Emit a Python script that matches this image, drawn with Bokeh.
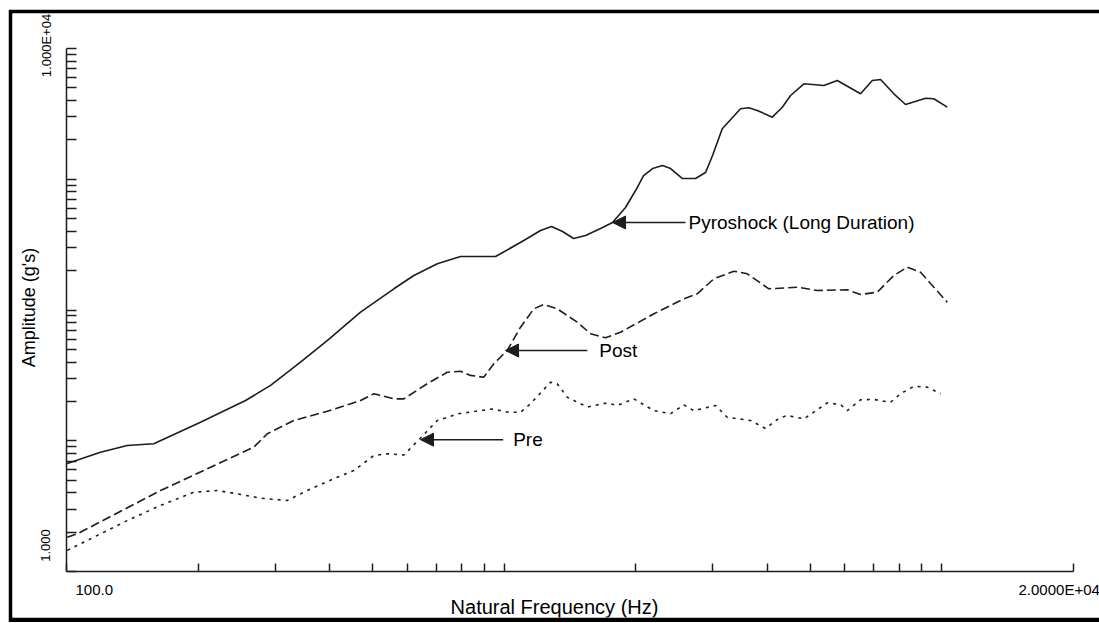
import math
from bokeh.plotting import figure
from bokeh.models import (Range1d, FixedTicker, CustomJSTickFormatter, Label,
                          Arrow, NormalHead, LogAxis)
from bokeh.embed import file_html
from bokeh.resources import INLINE

# ---------------- data ----------------
freq_pyro = [100, 119.6, 137.6, 158.3, 202.4, 256.5, 292.6, 342.5, 394.2, 469.8,
             559.8, 621.9, 703.5, 795.1, 955.7, 981.3, 1109, 1211, 1283, 1360,
             1441, 1535, 1661, 1769, 1894, 1997, 2083, 2184, 2301, 2401, 2556,
             2737, 2886, 2994, 3151, 3469, 3625, 3788, 4100, 4321, 4514, 4841,
             5378, 5771, 6523, 6938, 7247, 7772, 8265, 9184, 9592, 10294]
amp_pyro = [6.66, 8.17, 9.20, 9.48, 13.87, 20.3, 26.5, 39.9, 58.4, 96.2,
            145.3, 183.6, 225.6, 256.6, 256.6, 269.1, 340.1, 405.5, 435.1, 398.5,
            352.3, 371.4, 420.2, 467.0, 608, 820, 1068, 1208, 1274, 1208, 1013,
            1013, 1126, 1519, 2431, 3458, 3519, 3356, 2983, 3557, 4371, 5370,
            5212, 5692, 4504, 5692, 5794, 4504, 3730, 4169, 4124, 3557]

freq_post = [100.4, 105.8, 164, 267.9, 287.5, 330.7, 394.2, 469.8, 503.9, 559.8,
             590, 667.4, 741.3, 795.1, 837.9, 898.6, 947.3, 1016, 1090, 1169,
             1232, 1322, 1469, 1576, 1705, 1845, 2199, 2574, 2762, 3015, 3349,
             3594, 4026, 4676, 5193, 6083, 6523, 7123, 7772, 8340, 8944, 9592,
             10294]
amp_post = [1.83, 1.94, 4.16, 8.93, 11.3, 14.28, 16.8, 20.3, 22.9, 20.9,
            20.9, 27.3, 33.4, 34.0, 31.6, 30.6, 38.8, 49.0, 73.9, 102.1,
            110.2, 102.1, 80.7, 65.8, 61.3, 67.6, 93.5, 121.8, 133, 173.2, 198.1,
            189.2, 145.3, 149.4, 141, 142.7, 131.4, 136.8, 183.6, 212.5, 194.6, 149.4,
            114.7]

freq_pre = [100.4, 137.6, 164, 195.4, 221, 245.5, 277.6, 319.4, 354.8, 415.6,
            453.5, 503.9, 540.5, 590, 644.2, 703.5, 786.7, 938.3, 1025, 1090,
            1149, 1276, 1322, 1394, 1549, 1720, 1813, 1979, 2199, 2401, 2574,
            2713, 3042, 3235, 3657, 3958, 4238, 4436, 4841, 5475, 5871, 6083,
            6523, 6996, 7638, 8053, 8639, 9267, 9938]
amp_pre = [1.45, 2.45, 3.20, 4.04, 4.16, 3.93, 3.64, 3.49, 4.16, 5.26,
           5.92, 7.71, 7.95, 7.78, 10.5, 14.28, 16.1, 17.5, 16.5, 16.5,
           19.2, 28.0, 27.3, 21.5, 18.1, 19.5, 18.6, 20.9, 17.0, 16.1, 18.8,
           17.0, 18.6, 15.1, 14.28, 12.4, 14.8, 15.6, 14.7, 19.5, 18.9, 17.0,
           20.6, 20.7, 19.7, 22.9, 26.1, 25.7, 22.9]

x_ticks = [100, 200, 300, 400, 500, 600, 700, 800, 900,
           1000, 2000, 3000, 4000, 5000, 6000, 7000, 8000, 9000, 10000, 20000]
y_ticks = [m * 10 ** e for e in range(4) for m in range(1, 10)] + [10000]

x_bounds = (100, 20000)
y_bounds = (1, 10000)
x_min_label, x_max_label = "100.0", "2.0000E+04"
y_min_label, y_max_label = "1.000", "1.000E+04"
x_title = "Natural Frequency (Hz)"
y_title = "Amplitude (g's)"

# (text, arrow tip freq, arrow tail freq, amplitude, text gap px)
callouts = [("Pyroshock (Long Duration)", 1769, 2597, 467.0, 3),
            ("Post", 1007, 1549, 49.0, 12),
            ("Pre", 644, 995, 10.2, 10)]

# ---------------- layout ----------------
FONT = "Liberation Sans"
INK = "#1e1c1c"
FRAME_W, FRAME_H = 1087, 604          # white drawing area (inside black rules)
AX_X0, AX_X1 = 54, 1061               # where the x axis starts / ends in it
AX_Y0, AX_Y1 = 35, 558                # where the y axis ends / starts in it

dpx = (AX_X1 - AX_X0) / math.log10(x_bounds[1] / x_bounds[0])
dpy = (AX_Y1 - AX_Y0) / math.log10(y_bounds[1] / y_bounds[0])
x_range = Range1d(x_bounds[0] / 10 ** (AX_X0 / dpx),
                  x_bounds[1] * 10 ** ((FRAME_W - AX_X1) / dpx))
y_range = Range1d(y_bounds[0] / 10 ** ((FRAME_H - AX_Y1) / dpy),
                  y_bounds[1] * 10 ** (AX_Y0 / dpy))

p = figure(width=FRAME_W + 4, height=FRAME_H + 9, x_axis_type="log",
           y_axis_type="log", x_range=x_range, y_range=y_range,
           x_axis_location=None, y_axis_location=None, title=None,
           output_backend="svg", toolbar_location=None,
           min_border_left=4, min_border_right=0, min_border_top=4,
           min_border_bottom=5)
p.styles = {"margin-left": "8px", "margin-top": "9px"}
p.outline_line_color = None
p.background_fill_color = "white"
p.border_fill_color = "black"
for g in p.grid:
    g.visible = False
p.xgrid.grid_line_color = None
p.ygrid.grid_line_color = None

blank = CustomJSTickFormatter(code="return ''")
xaxis = LogAxis(fixed_location=y_bounds[0], bounds=x_bounds)
yaxis = LogAxis(fixed_location=x_bounds[0], bounds=y_bounds)
for ax, ticks, tin in ((xaxis, x_ticks, 8), (yaxis, y_ticks, 10)):
    ax.ticker = FixedTicker(ticks=ticks)
    ax.minor_tick_line_color = None
    ax.major_tick_in = tin
    ax.major_tick_out = 0
    ax.major_tick_line_color = INK
    ax.major_tick_line_width = 1.5
    ax.axis_line_color = INK
    ax.axis_line_width = 1.5
    ax.formatter = blank
    ax.major_label_text_font_size = "1px"
    ax.major_label_standoff = 0
p.add_layout(xaxis, "below")
p.add_layout(yaxis, "left")

p.line(freq_pyro, amp_pyro, line_color=INK, line_width=1.6)
p.line(freq_post, amp_post, line_color=INK, line_width=1.6, line_dash="9 4")
p.line(freq_pre, amp_pre, line_color=INK, line_width=1.6, line_dash="3 5")

txt = dict(text_font=FONT, text_color="black", text_baseline="middle")
# tick-end labels, placed as the original software places them
p.add_layout(Label(x=x_bounds[0], y=y_bounds[0], x_offset=9, y_offset=-18,
                   text=x_min_label, text_align="left", text_font_size="15px", **txt))
p.add_layout(Label(x=x_bounds[1], y=y_bounds[0], x_offset=-55, y_offset=-18,
                   text=x_max_label, text_align="left", text_font_size="15px", **txt))
p.add_layout(Label(x=x_bounds[0], y=y_bounds[1], x_offset=-20, y_offset=3,
                   angle=math.pi / 2, text=y_max_label, text_align="center",
                   text_font_size="13px", **txt))
p.add_layout(Label(x=x_bounds[0], y=y_bounds[0], x_offset=-21, y_offset=26,
                   angle=math.pi / 2, text=y_min_label, text_align="center",
                   text_font_size="13px", **txt))
# axis titles
p.add_layout(Label(x=x_bounds[0], y=y_bounds[0], x_offset=488, y_offset=-35,
                   text=x_title, text_align="center", text_font_size="20px", **txt))
p.add_layout(Label(x=x_bounds[0], y=y_bounds[0], x_offset=-38, y_offset=264,
                   angle=math.pi / 2, text=y_title, text_align="center",
                   text_font_size="18px", **txt))

for text, tip, tail, amp, gap in callouts:
    p.add_layout(Arrow(x_start=tail, y_start=amp, x_end=tip, y_end=amp,
                       line_color=INK, line_width=1.5,
                       end=NormalHead(size=13, fill_color=INK, line_color=INK)))
    p.add_layout(Label(x=tail, y=amp, x_offset=gap, text=text, text_align="left",
                       text_font_size="19px", **txt))

open("out.html", "w").write(file_html(p, INLINE))
